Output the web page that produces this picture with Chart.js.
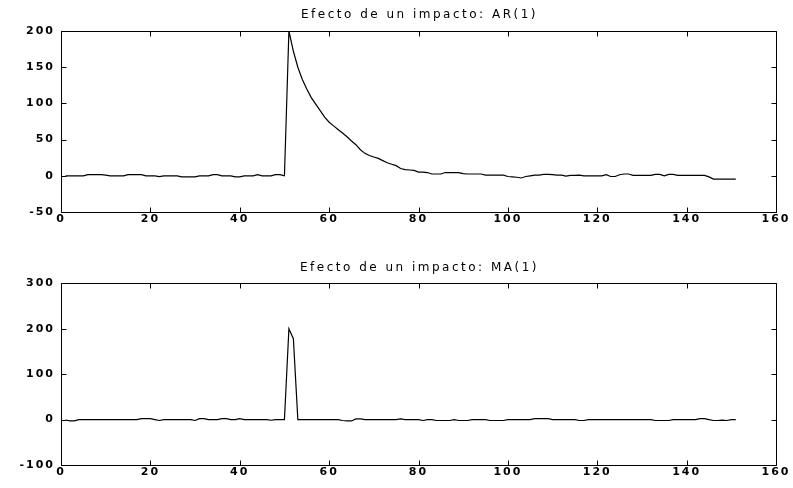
<!DOCTYPE html>
<html>
<head>
<meta charset="utf-8">
<script src="https://cdn.jsdelivr.net/npm/chart.js@4.4.1/dist/chart.umd.min.js"></script>
<style>
  html, body { margin: 0; padding: 0; background: #ffffff; }
  .panel { position: relative; width: 793px; height: 244px; }
  canvas { display: block; }
</style>
</head>
<body>
<div class="panel"><canvas id="arChart" width="793" height="244"></canvas></div>
<div class="panel"><canvas id="maChart" width="793" height="244"></canvas></div>
<script>
// ---- Data ----
const arTitle = "Efecto de un impacto: AR(1)";
const maTitle = "Efecto de un impacto: MA(1)";

const xTicks = [0, 20, 40, 60, 80, 100, 120, 140, 160];
const arYTicks = [-50, 0, 50, 100, 150, 200];
const maYTicks = [-100, 0, 100, 200, 300];

// AR(1) response, samples 1..151
const arValues = [
  0, 0, 0, 0, 0, 1.5, 1.5, 1.5, 1.5, 1,
  0, 0, 0, 0, 1.5, 1.5, 1.5, 1.5, 0, 0,
  0, -1, 0, 0, 0, 0, -1.5, -1.5, -1.5, -1.5,
  0, 0, 0, 1.5, 1.5, 0, 0, 0, -1.5, -1.5,
  0, 0, 0, 1.5, 0, 0, 0, 1.5, 1.5, 0,
  200, 172, 150, 133, 120, 108, 99, 90, 81, 74,
  69, 64, 59, 54, 48, 43, 36, 31, 28, 26,
  24, 21, 18, 16, 14, 10, 8.5, 8, 7.5, 5,
  5, 4.5, 2.5, 2.5, 2.5, 4.5, 4.5, 4.5, 4.5, 3,
  2.5, 2.5, 2.5, 2.5, 1, 1, 1, 1, 1, -1,
  -1.5, -2, -3, -1, 0, 1, 1, 2, 2, 1.5,
  1, 1, -0.5, 0.5, 0.5, 1, 0, 0, 0, 0,
  0, 1.5, -1, -1, 1.5, 2.5, 2.5, 0.7, 0.7, 0.7,
  0.7, 0.7, 2, 2, 0, 2, 2, 0.7, 0.7, 0.7,
  0.7, 0.7, 0.7, 0.5, -1.5, -4.5, -4.5, -4.5, -4.5, -4.5,
  -4.5
];

// MA(1) response, samples 1..151
const maValues = [
  -1, -3, -3, 0, 0, 0, 0, 0, 0, 0,
  0, 0, 0, 0, 0, 0, 0, 2, 2, 2,
  0, -2, 0, 0, 0, 0, 0, 0, 0, -2,
  2, 2, 0, 0, 0, 2, 2, 0, 0, 2,
  0, 0, 0, 0, 0, 0, -1.5, 0, 0, 0,
  200, 178, 0, 0, 0, 0, 0, 0, 0, 0,
  0, 0, -2, -3, -3, 1.5, 1.5, 0, 0, 0,
  0, 0, 0, 0, 0, 1.5, 0, 0, 0, 0,
  -2, 0, 0, -2, -2, -2, -2, 0, -2, -2,
  -2, 0, 0, 0, 0, -2, -2, -2, -2, 0,
  0, 0, 0, 0, 0, 2, 2, 2, 2, 0,
  0, 0, 0, 0, 0, -2, -2, 0, 0, 0,
  0, 0, 0, 0, 0, 0, 0, 0, 0, 0,
  0, 0, -2, -2, -2, -2, 0, 0, 0, 0,
  0, 0, 2, 2, 0, -2, -2, -1, -2, 0,
  0
];

// ---- Helpers ----
const spacingPlugin = {
  id: 'spacing',
  beforeUpdate(chart) { chart.ctx.letterSpacing = '2px'; },
  beforeDraw(chart) { chart.ctx.letterSpacing = '2px'; }
};

const boxTicksPlugin = {
  id: 'boxTicks',
  afterDraw(chart, args, opts) {
    const ctx = chart.ctx;
    const { left, right, top, bottom } = chart.chartArea;
    const xs = chart.scales.x, ys = chart.scales.y;
    const L = Math.round(left) + 0.5, R = Math.round(right) + 0.5;
    const T = Math.round(top) + 0.5, B = Math.round(bottom) + 0.5;
    const len = 5;
    ctx.save();
    ctx.strokeStyle = '#000';
    ctx.lineWidth = 1;
    ctx.beginPath();
    ctx.rect(L, T, R - L, B - T);
    xs.ticks.forEach(t => {
      const p = Math.round(xs.getPixelForValue(t.value)) + 0.5;
      ctx.moveTo(p, T); ctx.lineTo(p, T + len);
      ctx.moveTo(p, B); ctx.lineTo(p, B - len);
    });
    ys.ticks.forEach(t => {
      const p = Math.round(ys.getPixelForValue(t.value)) + 0.5;
      ctx.moveTo(L, p); ctx.lineTo(L + len, p);
      ctx.moveTo(R, p); ctx.lineTo(R - len, p);
    });
    ctx.stroke();
    // title centred over the axes box
    ctx.letterSpacing = '2.5px';
    ctx.fillStyle = '#000';
    ctx.font = '12px "DejaVu Sans"';
    ctx.textAlign = 'center';
    ctx.textBaseline = 'middle';
    ctx.fillText(opts.text, (left + right) / 2 + 1, opts.y);
    ctx.restore();
  }
};

function makeChart(id, title, values, yTicks, plotTop, titleY, xAxisHeight) {
  const pts = values.map((v, i) => ({ x: i + 1, y: v }));
  return new Chart(document.getElementById(id), {
    type: 'scatter',
    data: {
      datasets: [{
        data: pts,
        showLine: true,
        borderColor: '#000000',
        borderWidth: 1.2,
        pointRadius: 0,
        tension: 0,
        fill: false
      }]
    },
    options: {
      responsive: false,
      animation: false,
      events: [],
      layout: { padding: { left: 0, right: 17, top: plotTop, bottom: 0 } },
      plugins: {
        legend: { display: false },
        tooltip: { enabled: false },
        title: { display: false },
        boxTicks: { text: title, y: titleY }
      },
      scales: {
        x: {
          type: 'linear',
          min: xTicks[0],
          max: xTicks[xTicks.length - 1],
          afterBuildTicks(scale) { scale.ticks = xTicks.map(v => ({ value: v })); },
          afterFit(scale) { scale.height = xAxisHeight; },
          grid: { display: false, drawTicks: false },
          border: { display: false },
          ticks: {
            color: '#000',
            padding: 1,
            maxRotation: 0,
            autoSkip: false,
            font: { family: 'DejaVu Sans', size: 11, weight: 'bold' }
          }
        },
        y: {
          type: 'linear',
          min: yTicks[0],
          max: yTicks[yTicks.length - 1],
          afterBuildTicks(scale) { scale.ticks = yTicks.map(v => ({ value: v })); },
          afterFit(scale) { scale.width = 61; },
          grid: { display: false, drawTicks: false },
          border: { display: false },
          ticks: {
            color: '#000',
            padding: 6,
            autoSkip: false,
            font: { family: 'DejaVu Sans', size: 11, weight: 'bold' }
          }
        }
      }
    },
    plugins: [spacingPlugin, boxTicksPlugin]
  });
}

makeChart('arChart', arTitle, arValues, arYTicks, 31, 15, 32);
makeChart('maChart', maTitle, maValues, maYTicks, 39.3, 24, 23);
</script>
</body>
</html>
